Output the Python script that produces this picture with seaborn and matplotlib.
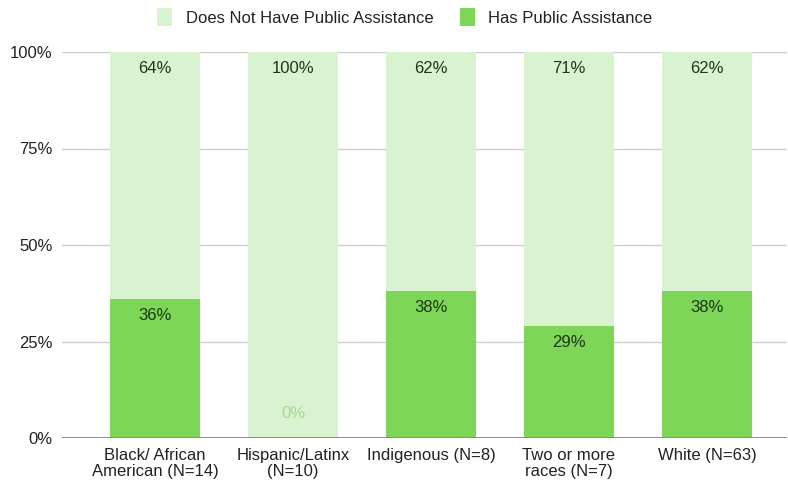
import matplotlib
matplotlib.use("Agg")
import matplotlib.pyplot as plt
import seaborn as sns
import pandas as pd

categories = ["Black/ African\nAmerican (N=14)", "Hispanic/Latinx\n(N=10)",
              "Indigenous (N=8)", "Two or more\nraces (N=7)", "White (N=63)"]
has_assistance = [36, 0, 38, 29, 38]
no_assistance = [64, 100, 62, 71, 62]
series_names = ["Does Not Have Public Assistance", "Has Public Assistance"]
y_ticks = [0, 25, 50, 75, 100]

LIGHT = "#d9f2cf"
DARK = "#7dd658"
FS = 12

sns.set_theme(style="white")
plt.rcParams["font.family"] = ["Liberation Sans", "DejaVu Sans"]

df = pd.DataFrame({
    "category": categories,
    "has": has_assistance,
    "no": no_assistance,
})
df["total"] = df["has"] + df["no"]

fig = plt.figure(figsize=(7.88, 4.87), dpi=100)
ax = fig.add_axes([62 / 788, 1 - 438 / 487, 725 / 788, (438 - 52) / 487])

# gridlines behind the bars
for t in y_ticks[1:]:
    ax.axhline(t, color="#cccccc", lw=1.0, zorder=0)

sns.barplot(data=df, x="category", y="total", color=LIGHT, width=0.652,
            saturation=1, linewidth=0, ax=ax, zorder=2, label=series_names[0])
sns.barplot(data=df, x="category", y="has", color=DARK, width=0.652,
            saturation=1, linewidth=0, ax=ax, zorder=3, label=series_names[1])

ax.axhline(0, color="#8a8a8a", lw=1.4, zorder=4)

ax.set_xlim(-0.674, 4.58)
ax.set_ylim(0, 100)
ax.set_yticks(y_ticks)
ax.set_yticklabels([f"{t}%" for t in y_ticks])
ax.set_xlabel("")
ax.set_ylabel("")
ax.tick_params(axis="both", length=0, labelsize=FS, labelcolor="#222222")
ax.tick_params(axis="y", pad=7)
ax.tick_params(axis="x", pad=7)
for lbl in ax.get_xticklabels():
    lbl.set_linespacing(1.12)
for s in ax.spines.values():
    s.set_visible(False)

# value labels
for i, (h, n) in enumerate(zip(has_assistance, no_assistance)):
    top = h + n
    ax.annotate(f"{n}%", xy=(i, top), xytext=(0, -12), textcoords="offset points",
                ha="center", va="center", fontsize=FS, color="#1c3812", zorder=5)
    if h > 0:
        ax.annotate(f"{h}%", xy=(i, h), xytext=(0, -11.5), textcoords="offset points",
                    ha="center", va="center", fontsize=FS, color="#1c3812", zorder=5)
    else:
        ax.annotate(f"{h}%", xy=(i, h), xytext=(0, 18), textcoords="offset points",
                    ha="center", va="center", fontsize=FS, color="#a6d98f", zorder=5)

handles, labels = ax.get_legend_handles_labels()
fig.legend(handles, labels, loc="center", bbox_to_anchor=(0.514, 1 - 17 / 487),
           ncol=2, frameon=False, fontsize=FS, handlelength=0.9,
           handleheight=1.2, handletextpad=0.8, columnspacing=1.6,
           labelcolor="#222222")
if ax.get_legend() is not None:
    ax.get_legend().remove()

fig.savefig("out.png", dpi=100, facecolor="white")
